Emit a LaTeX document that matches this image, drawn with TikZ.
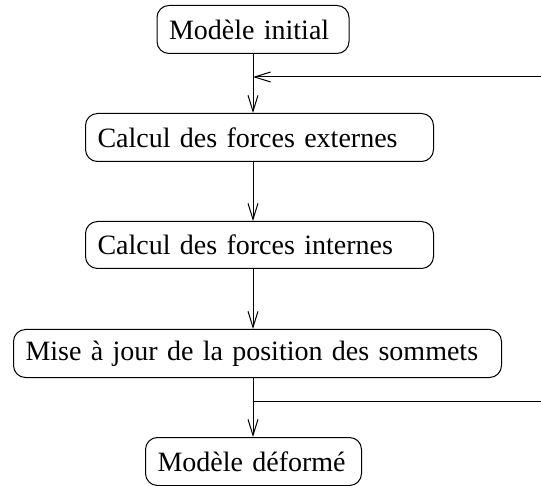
\documentclass[tikz,border=0pt]{standalone}
\usepackage{fontspec}
\setmainfont{Liberation Serif}
\usetikzlibrary{arrows.meta,calc}
\begin{document}
\begin{tikzpicture}[x=1pt,y=-1pt,
  box/.style={draw,line width=1pt,rounded corners=12pt,inner xsep=12pt,inner ysep=0pt,
    minimum height=48pt,anchor=north west,font=\fontsize{28}{32}\selectfont,align=left},
  flow/.style={line width=1pt,-{Straight Barb[length=16pt,width=10pt,line width=1pt]}},
  plain/.style={line width=1pt}]
\useasboundingbox (0,0) rectangle (541,486);
\node[box,text width=168pt] (init) at (156.5,5) {\mbox{Modèle initial}};
\node[box,text width=324pt] (ext) at (85,113) {\mbox{Calcul des forces externes}};
\node[box,text width=324pt,minimum height=47pt] (int) at (85,221) {\mbox{Calcul des forces internes}};
\node[box,text width=464pt] (mise) at (13,329) {\mbox{Mise à jour de la position des sommets}};
\node[box,text width=192pt] (def) at (145,437) {\mbox{Modèle déformé}};
\coordinate (fbin) at (541,77);
\coordinate (fbout) at (541,401);
\draw[flow] (init.south) -- (init.south |- ext.north);
\draw[flow] (fbin) -- (fbin -| init.south);
\draw[flow] (ext.south -| init.south) -- (int.north -| init.south);
\draw[flow] (int.south -| init.south) -- (mise.north -| init.south);
\draw[flow] (mise.south -| init.south) -- (def.north -| init.south);
\draw[plain] (fbout -| init.south) -- (fbout);
\end{tikzpicture}
\end{document}
